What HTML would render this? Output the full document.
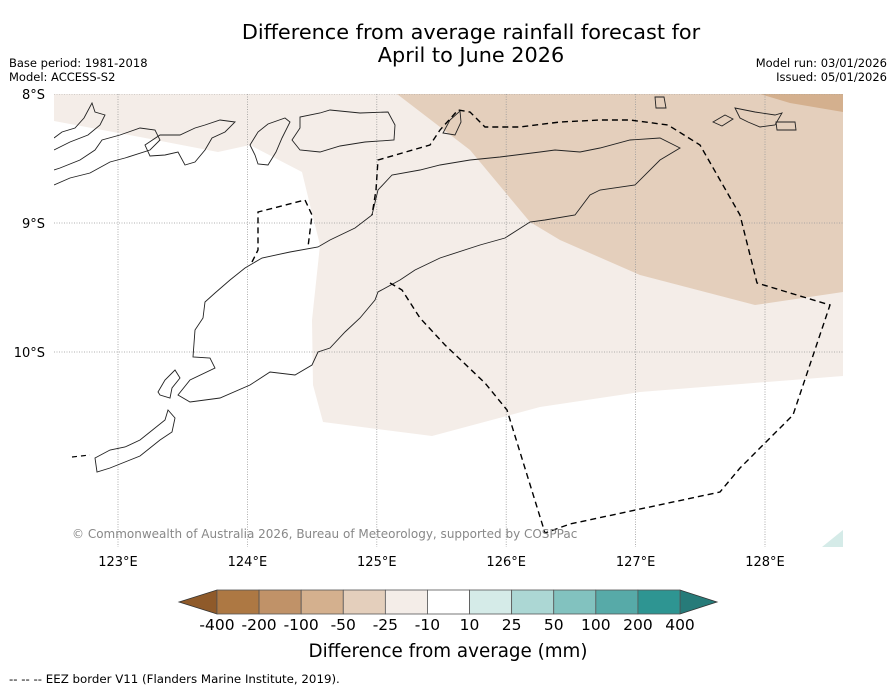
<!DOCTYPE html>
<html><head><meta charset="utf-8"><style>
body{margin:0;background:#fff;width:896px;height:690px;overflow:hidden;font-family:"Liberation Sans","DejaVu Sans",sans-serif;}
svg{position:absolute;left:0;top:0}
text{font-family:"DejaVu Sans","Liberation Sans",sans-serif;}
</style></head><body>
<svg width="896" height="690">
<text x="471" y="39" font-size="20.8" text-anchor="middle">Difference from average rainfall forecast for</text>
<text x="471" y="62" font-size="20.8" text-anchor="middle">April to June 2026</text>
<text x="9" y="67" font-size="11.5">Base period: 1981-2018</text>
<text x="9" y="81" font-size="11.5">Model: ACCESS-S2</text>
<text x="887" y="67" font-size="11.5" text-anchor="end">Model run: 03/01/2026</text>
<text x="887" y="81" font-size="11.5" text-anchor="end">Issued: 05/01/2026</text>
<g id="map">
<clipPath id="cp"><rect x="54" y="94" width="789" height="453"/></clipPath>
<g clip-path="url(#cp)">
<path fill="#f4ede8" d="M54,94 L843,94 L843,376 L640,392 L540,407 L432,436 L323,422 L313,385 L312,320 L320,245 L310,205 L302,172 L250,145 L218,152 L140,137 L54,121Z"/>
<path fill="#e4cfbc" d="M397,94 L843,94 L843,292 L755,305 L640,275 L560,240 L530,222 L470,150Z"/>
<path fill="#d4b08e" d="M760,94 L843,94 L843,112 L790,103Z"/>
<path fill="#d5ebe8" d="M822,547 L843,530 L843,547Z"/>
<g id="grid" stroke="#999" stroke-width="0.8" stroke-dasharray="1,1.5"></g>
<g fill="none" stroke="#222" stroke-width="0.9">
<path d="M680,148 L660,138 L630,140 L600,148 L580,152 L555,150 L540,152 L500,157 L470,160 L440,165 L420,170 L392,175 L378,190 L372,215 L355,228 L330,240 L318,247 L290,252 L262,258 L245,268 L230,280 L215,293 L205,302 L203,318 L195,330 L193,357 L210,358 L215,368 L190,380 L178,395 L190,402 L220,398 L250,385 L270,372 L295,375 L312,365 L318,352 L330,348 L345,332 L360,318 L375,300 L378,292 L400,280 L415,270 L440,258 L480,245 L505,238 L530,222 L545,220 L575,215 L590,195 L600,190 L635,185 L660,160 Z"/>
<path d="M158,392 L165,380 L175,370 L180,378 L172,388 L170,398 L160,395Z"/>
<path d="M95,458 L110,450 L125,447 L140,440 L150,432 L165,420 L168,410 L175,418 L172,432 L160,440 L150,448 L140,456 L125,462 L110,468 L97,472Z"/>
<path d="M54,150 L70,142 L88,135 L100,125 L105,115 L95,112 L92,103 L84,118 L75,128 L62,132 L54,138"/>
<path d="M54,185 L70,178 L90,173 L110,162 L125,158 L150,150 L160,140 L155,130 L140,128 L120,135 L102,140 L95,150 L80,160 L60,168 L54,170"/>
<path d="M145,145 L160,135 L180,135 L195,128 L205,125 L220,120 L235,122 L225,132 L212,138 L205,150 L195,162 L185,165 L178,152 L165,155 L150,156Z"/>
<path d="M250,145 L258,132 L268,124 L285,118 L290,122 L282,138 L276,152 L268,165 L258,164 L255,155Z"/>
<path d="M292,140 L300,128 L300,117 L320,113 L330,110 L360,113 L388,112 L395,125 L394,140 L365,142 L340,146 L320,152 L300,150Z"/>
<path d="M443,133 L450,120 L460,111 L461,122 L455,135Z"/>
<path d="M655,97 L664,97 L666,108 L656,108Z"/>
<path d="M713,122 L725,115 L733,119 L722,126Z"/>
<path d="M735,108 L755,112 L775,115 L782,113 L775,125 L760,127 L748,122 L740,118Z"/>
<path d="M776,122 L795,122 L796,130 L777,130Z"/>
</g>
<path fill="none" stroke="#000" stroke-width="1.4" stroke-dasharray="6,4" d="M390,283 L402,290 L420,318 L445,345 L485,383 L507,410 L545,533 L570,524 L720,492 L740,468 L793,415 L830,305 L757,283 L740,215 L700,145 L668,125 L630,120 L600,120 L560,122 L520,127 L485,127 L470,112 L458,110 L440,130 L430,145 L378,160 L376,190 L372,215"/>
<path fill="none" stroke="#000" stroke-width="1.4" stroke-dasharray="6,4" d="M252,262 L258,250 L258,212 L305,200 L312,215 L308,247"/>
<path fill="none" stroke="#000" stroke-width="1.2" stroke-dasharray="5,4" d="M72,457 L90,455"/>
</g>
<text x="72" y="538" font-size="12" fill="#888">© Commonwealth of Australia 2026, Bureau of Meteorology, supported by COSPPac</text>
<g id="axes"></g>
</g>
<g id="cbar"></g>
<text x="448" y="657" font-size="18.3" text-anchor="middle">Difference from average (mm)</text>
<text x="9" y="683" font-size="11.8">--  --  -- EEZ border V11 (Flanders Marine Institute, 2019).</text>
</svg>
<script>
const lonTicks=[123,124,125,126,127,128];
const latTicks=[-8,-9,-10];
const cbLabels=["-400","-200","-100","-50","-25","-10","10","25","50","100","200","400"];
const cbColors=["#ad7843","#c09268","#d4b08e","#e4cfbc","#f4ede8","#ffffff","#d5ebe8","#acd7d4","#82c2bf","#57aaa8","#2e9592"];
const NS="http://www.w3.org/2000/svg";
function X(lon){return 118+(lon-123)*129.4;}
function Y(lat){return 94+(-8-lat)*129;}
function mk(t,a,p){const e=document.createElementNS(NS,t);for(const k in a)e.setAttribute(k,a[k]);p.appendChild(e);return e;}
const grid=document.getElementById('grid'),axes=document.getElementById('axes');
lonTicks.forEach(l=>{
  const g=mk('line',{x1:X(l),x2:X(l),y1:94,y2:547},grid);
  
  
  const t=mk('text',{x:X(l),y:566,'font-size':13,'text-anchor':'middle'},axes);
  t.textContent=l+'°E';
  
  
});
latTicks.forEach(l=>{
  const g=mk('line',{x1:54,x2:843,y1:Y(l),y2:Y(l)},grid);
  
  
  const t=mk('text',{x:45,y:Y(l)+5,'font-size':13,'text-anchor':'end'},axes);
  t.textContent=(-l)+'°S';
  
  
});
const cb=document.getElementById('cbar');
const x0=217,x1=680,y0=590,h=24,w=(x1-x0)/cbColors.length;
const la=mk('polygon',{points:`179,${y0+h/2} ${x0},${y0} ${x0},${y0+h}`,fill:'#8f5a2a',stroke:'#333','stroke-width':0.8},cb);


const ra=mk('polygon',{points:`717,${y0+h/2} ${x1},${y0} ${x1},${y0+h}`,fill:'#277b79',stroke:'#333','stroke-width':0.8},cb);


cbColors.forEach((c,i)=>{
  const r=mk('rect',{x:x0+i*w,y:y0,width:w,height:h,fill:c,stroke:'#555','stroke-width':0.8},cb);
  
  
});
cbLabels.forEach((s,i)=>{
  const t=mk('text',{x:x0+i*w,y:630,'font-size':15.5,'text-anchor':'middle'},cb);
  t.textContent=s;
  
  
});
</script>
</body></html>
